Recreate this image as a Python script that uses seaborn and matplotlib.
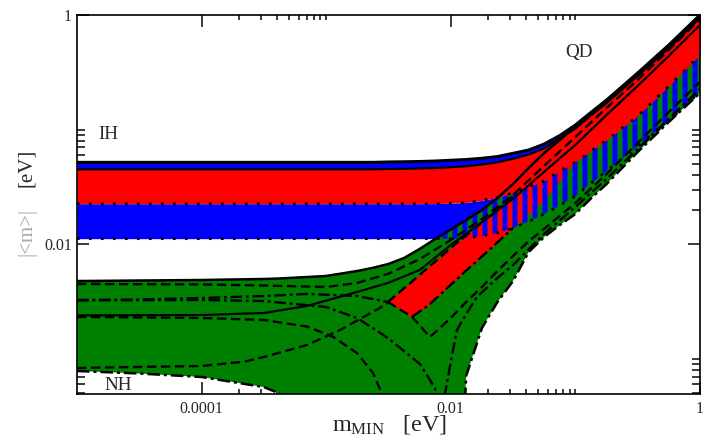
import numpy as np
import matplotlib
matplotlib.use("Agg")
import matplotlib.pyplot as plt
from matplotlib.ticker import FixedLocator, FixedFormatter, NullFormatter
import seaborn as sns

# ---------------- data (eV) ----------------
# shared m_MIN grid for the filled bands
m_min = [1e-5, 3.16e-5, 1e-4, 3.16e-4, 4.22e-4, 1e-3, 1.78e-3, 2.37e-3, 3.16e-3,
         4.22e-3, 5.62e-3, 7.5e-3, 1e-2, 1.33e-2, 1.78e-2, 2.37e-2, 3.16e-2,
         4.22e-2, 5.62e-2, 7.5e-2, 0.1, 0.133, 0.178, 0.316, 0.562, 1.0]

# inverted hierarchy: 3 sigma top, best-fit top, best-fit bottom, 3 sigma bottom
ih_top = [0.0518, 0.0518, 0.0518, 0.0518, 0.0518, 0.0518, 0.0518, 0.0518, 0.0522,
          0.0524, 0.0527, 0.0532, 0.0540, 0.0548, 0.0562, 0.0582, 0.0621, 0.0664,
          0.0748, 0.0888, 0.1097, 0.1410, 0.1812, 0.312, 0.547, 1.0]
ih_bf_top = [0.0450, 0.0450, 0.0450, 0.0450, 0.0450, 0.0450, 0.0450, 0.0450, 0.0453,
             0.0455, 0.0458, 0.0462, 0.0470, 0.0479, 0.0496, 0.0518, 0.0556, 0.0606,
             0.0684, 0.0836, 0.1022, 0.1327, 0.1707, 0.2935, 0.515, 0.942]
ih_bf_low = [0.02256, 0.02256, 0.02256, 0.02256, 0.02256, 0.02256, 0.02256, 0.02256,
             0.02256, 0.02256, 0.02256, 0.0226, 0.0228, 0.0231, 0.0241, 0.0256,
             0.0280, 0.0315, 0.0356, 0.0437, 0.0522, 0.0648, 0.0811, 0.1314, 0.2401,
             0.448]
ih_low = [0.01117, 0.01117, 0.01117, 0.01117, 0.01117, 0.01117, 0.01117, 0.01117,
          0.01117, 0.01117, 0.01117, 0.01117, 0.01117, 0.01133, 0.01179, 0.01252,
          0.01384, 0.01577, 0.01834, 0.02177, 0.0263, 0.0339, 0.0435, 0.0719,
          0.1189, 0.2129]

# normal hierarchy 3 sigma band (1e-6 = cancellation, below the axis)
nh_top = [0.00477, 0.00482, 0.00487, 0.00497, 0.00502, 0.00528, 0.00584, 0.00622,
          0.00672, 0.00758, 0.00908, 0.01110, 0.01343, 0.01626, 0.0199, 0.0253,
          0.0335, 0.0462, 0.0625, 0.0811, 0.1075, 0.1381, 0.1794, 0.3055, 0.542,
          0.990]
nh_low = [0.000783, 0.000744, 0.000694, 0.000567, 0.000498, 1e-6, 1e-6, 1e-6, 1e-6,
          1e-6, 1e-6, 1e-6, 1e-6, 0.00071, 0.00186, 0.00313, 0.00477, 0.00855,
          0.01156, 0.01471, 0.01834, 0.0250, 0.0335, 0.0637, 0.1165, 0.2087]

# normal hierarchy best-fit (red diagonal) band
nh_bf_m = [3.13e-3, 4.89e-3, 6.81e-3, 1.19e-2, 2.07e-2, 3.16e-2, 5.6e-2, 0.1, 0.178,
           0.316, 0.562, 1.0]
nh_bf_up = [0.00313, 0.00473, 0.00645, 0.01088, 0.01762, 0.0263, 0.0444, 0.0811,
            0.1483, 0.2602, 0.476, 0.869]
nh_bf_low = [0.00313, 0.00232, 0.00301, 0.00528, 0.00908, 0.01384, 0.0243, 0.053,
             0.082, 0.133, 0.243, 0.452]

# single phase curves inside the NH band
l1_m = [1e-5, 1e-4, 3.17e-4, 1e-3, 1.77e-3, 3.13e-3, 5.66e-3, 1e-2, 1.78e-2, 3.16e-2,
        5.6e-2, 0.1, 0.178, 0.316, 0.562, 1.0]
l1_v = [0.00450, 0.00445, 0.00436, 0.00423, 0.00459, 0.00550, 0.00743, 0.01088,
        0.0166, 0.0269, 0.0481, 0.0862, 0.1543, 0.2710, 0.495, 0.923]
s2_m = [1e-5, 1e-4, 3.17e-4, 7.02e-4, 1.77e-3, 3.13e-3, 5.66e-3, 1e-2, 1.78e-2,
        3.16e-2, 5.6e-2, 0.1, 0.178, 0.316, 0.562, 1.0]
s2_v = [0.00239, 0.00241, 0.00251, 0.00289, 0.00383, 0.00459, 0.00596, 0.00984,
        0.01562, 0.0248, 0.0427, 0.0734, 0.1341, 0.2401, 0.4387, 0.818]
lb_m = [1e-5, 3.16e-5, 1e-4, 3.17e-4, 7.02e-4, 1.77e-3, 3.13e-3]
lb_v = [0.00326, 0.00329, 0.00339, 0.00353, 0.00368, 0.00353, 0.00313]
lc_m = [1e-5, 1e-4, 3.17e-4, 1e-3, 1.77e-3, 3.13e-3, 5.66e-3, 7.47e-3, 8.5e-3]
lc_v = [0.00323, 0.00326, 0.00319, 0.00283, 0.00227, 0.00152, 0.000901, 0.000556,
        0.000292]
ld_m = [1e-5, 1e-4, 3.17e-4, 7.02e-4, 1.13e-3, 1.77e-3, 2.38e-3, 2.81e-3, 3.02e-3]
ld_v = [0.00232, 0.00227, 0.00218, 0.00191, 0.00156, 0.00112, 0.000752, 0.000493,
        0.000292]
le_m = [1e-5, 1e-4, 2.19e-4, 3.17e-4, 7.02e-4, 1.29e-3, 2.70e-3, 3.13e-3]
le_v = [0.000831, 0.000866, 0.000943, 0.001037, 0.00132, 0.00178, 0.00278, 0.00307]
r3_m = [3.13e-3, 4.89e-3, 6.81e-3, 1e-2, 1.33e-2, 1.78e-2, 2.37e-2, 3.16e-2, 4.24e-2,
        5.6e-2, 0.1, 0.178, 0.316, 0.562, 1.0]
r3_v = [0.00313, 0.00232, 0.00155, 0.00227, 0.00313, 0.00423, 0.00584, 0.00789,
        0.01066, 0.01357, 0.0229, 0.0410, 0.0764, 0.1424, 0.2602]
r2_m = [8.5e-3, 8.98e-3, 1e-2, 1.12e-2, 1.33e-2, 1.62e-2, 2.37e-2, 3.16e-2, 5.6e-2,
        0.1, 0.178, 0.316, 0.562, 1.0]
r2_v = [0.0003, 0.000493, 0.000938, 0.00178, 0.00246, 0.00346, 0.00507, 0.00658,
        0.01227, 0.0211, 0.0371, 0.0677, 0.1238, 0.2261]

x_ticks = [1e-4, 1e-2, 1]
x_labels = ["0.0001", "0.01", "1"]
y_ticks = [1e-2, 1]
y_labels = ["0.01", "1"]

# ---------------- style ----------------
sns.set_theme(style="ticks")
plt.rcParams["font.family"] = ["Liberation Serif", "DejaVu Serif"]
plt.rcParams["hatch.linewidth"] = 3.0

RED = "#ff0000"
BLUE = "#0000ff"
GREEN = "#008000"

fig = plt.figure(figsize=(716 / 120, 446 / 120), dpi=120)
ax = fig.add_axes([0.1075, 0.1166, 0.8701, 0.8498])
ax.set_xscale("log")
ax.set_yscale("log")

x = np.array(m_min)
a = np.array(ih_top)
b = np.array(ih_bf_top)
c = np.array(ih_bf_low)
d = np.array(ih_low)
nt = np.array(nh_top)
nl = np.array(nh_low)

# NH band
ax.fill_between(x, nl, nt, color=GREEN, lw=0, zorder=1)
ax.fill_between(nh_bf_m, nh_bf_low, nh_bf_up, color=RED, lw=0, zorder=2)

# IH 3 sigma band: striped where it lies on the NH band, solid elsewhere
ax.fill_between(x, d, np.minimum(c, nt), where=nt > d, interpolate=True,
                facecolor="none", edgecolor=BLUE, hatch="||", lw=0, zorder=3)
ax.fill_between(x, np.maximum(d, nt), c, where=nt < c, interpolate=True,
                color=BLUE, lw=0, zorder=3)
ax.fill_between(x, c, b, color=RED, lw=0, zorder=4)
ax.fill_between(x, b, a, color=BLUE, lw=0, zorder=4)


def curve(xs, ys, ls, lw=1.4):
    sns.lineplot(x=np.array(xs), y=np.array(ys), ax=ax, color="black", lw=lw,
                 linestyle=ls, sort=False, estimator=None, zorder=6)


dash = (0, (4, 2))
dashdot = (0, (5, 1.6, 1.2, 1.6))
dot = (0, (1, 3.5))

curve(m_min, ih_top, "-", 1.8)
curve(m_min, ih_bf_top, "-", 1.3)
curve(m_min, ih_bf_low, dot, 1.6)
curve(m_min, ih_low, dot, 1.6)
curve(m_min, nh_top, "-", 1.5)
curve(m_min[:6], nh_low[:6], dashdot, 1.5)
curve(m_min[12:], nh_low[12:], dashdot, 1.5)

curve(l1_m, l1_v, dash)
curve(s2_m, s2_v, "-", 1.3)
curve(lb_m, lb_v, dashdot)
curve(lc_m, lc_v, dashdot)
curve(ld_m, ld_v, dash)
curve(le_m, le_v, dash)
curve(r3_m, r3_v, dash)
curve(r2_m, r2_v, dashdot)
curve(nh_bf_m[:6], nh_bf_up[:6], dash)
curve(nh_bf_m[1:6], nh_bf_low[1:6], dashdot)

ax.set_xlim(1e-5, 1)
ax.set_ylim(4.93e-4, 1)

# ticks
minor = [k * 10.0 ** e for e in (-4, -2) for k in range(2, 11)]
ax.xaxis.set_major_locator(FixedLocator(x_ticks))
ax.xaxis.set_major_formatter(FixedFormatter(x_labels))
ax.xaxis.set_minor_locator(FixedLocator(minor))
ax.xaxis.set_minor_formatter(NullFormatter())
ax.yaxis.set_major_locator(FixedLocator(y_ticks))
ax.yaxis.set_major_formatter(FixedFormatter(y_labels))
ax.yaxis.set_minor_locator(FixedLocator(minor))
ax.yaxis.set_minor_formatter(NullFormatter())
ax.tick_params(which="both", direction="in", top=True, right=True,
               color="black", labelsize=9.5, width=0.9)
ax.tick_params(which="major", length=7)
ax.tick_params(axis="x", which="minor", length=3.2)
ax.tick_params(axis="y", which="minor", length=4.6)
ax.tick_params(axis="x", pad=4)
ax.tick_params(axis="y", pad=3)
for sp in ax.spines.values():
    sp.set_linewidth(1.0)
    sp.set_color("black")
    sp.set_zorder(10)
ax.set_xlabel("")
ax.set_ylabel("")

ax.text(1.77e-5, 0.0897, "IH", ha="center", va="center", fontsize=11.5, zorder=8)
ax.text(2.13e-5, 0.00059, "NH", ha="center", va="center", fontsize=11.5, zorder=8)
ax.text(0.107, 0.466, "QD", ha="center", va="center", fontsize=11.5, zorder=8)

fig.text(389 / 716, 1 - 425 / 446, r"$\mathregular{m_{MIN}}$   [eV]",
         ha="center", va="center", fontsize=14.5)
fig.text(27 / 716, 1 - 168 / 446, "[eV]", rotation=90, ha="center", va="center",
         fontsize=12.5)
fig.text(27 / 716, 1 - 232 / 446, "|<m>|", rotation=90, ha="center", va="center",
         fontsize=12.5, color="#a8a8a8")

fig.savefig("out.png", dpi=120)
